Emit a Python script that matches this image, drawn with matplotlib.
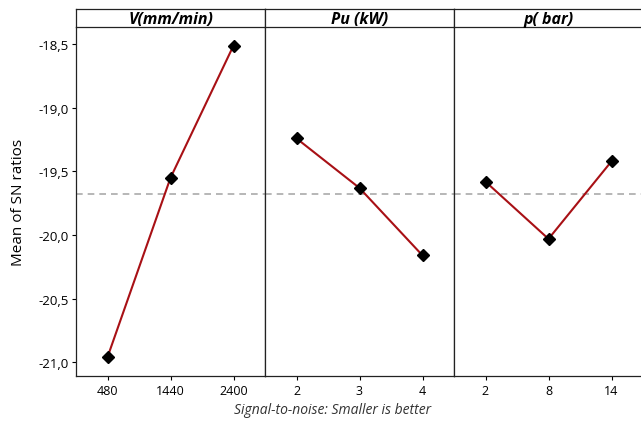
import matplotlib
matplotlib.use("Agg")
import matplotlib.pyplot as plt
from matplotlib.ticker import FuncFormatter

# factor levels and mean SN ratios
factors = ["V(mm/min)", "Pu (kW)", "p( bar)"]
levels = [["480", "1440", "2400"], ["2", "3", "4"], ["2", "8", "14"]]
sn_v = [-20.96, -19.55, -18.51]
sn_pu = [-19.24, -19.63, -20.16]
sn_p = [-19.58, -20.03, -19.42]
overall_mean = -19.676
y_ticks = [-18.5, -19.0, -19.5, -20.0, -20.5, -21.0]

plt.rcParams["font.family"] = ["Open Sans", "DejaVu Sans"]

fig = plt.figure(figsize=(6.41, 4.27), dpi=100)
W, H = 641, 427
left, panel_w = 76, 189
top, bottom, head_top = 28, 377, 10

series = [sn_v, sn_pu, sn_p]
for i, (name, labs, vals) in enumerate(zip(factors, levels, series)):
    x0 = (left + i * panel_w) / W
    ax = fig.add_axes([x0, 1 - bottom / H, panel_w / W, (bottom - top) / H])
    xs = list(range(1, len(vals) + 1))
    ax.axhline(overall_mean, color="#aaaaaa", lw=1.2, ls=(0, (4, 3)), zorder=1)
    ax.plot(xs, vals, color="#a81015", lw=1.5, zorder=2)
    ax.plot(xs, vals, ls="none", marker="D", ms=6.5, color="black", zorder=3)
    ax.set_xlim(0.5, 3.5)
    ax.set_ylim(-21.108, -18.364)
    ax.set_xticks(xs)
    ax.set_xticklabels(labs, fontsize=9)
    ax.tick_params(axis="x", length=3, width=0.8, pad=3)
    if i == 0:
        ax.set_yticks(y_ticks)
        ax.yaxis.set_major_formatter(FuncFormatter(lambda v, p: f"{v:.1f}".replace(".", ",")))
        ax.tick_params(axis="y", length=3, width=0.8, labelsize=9.5, pad=2)
        ax.set_ylabel("Mean of SN ratios", fontsize=11, labelpad=9)
    else:
        ax.set_yticks([])
    for s in ax.spines.values():
        s.set_linewidth(0.9)
        s.set_color("#222222")
    ax.spines["top"].set_visible(False)

    # strip header
    hx = fig.add_axes([x0, 1 - top / H, panel_w / W, (top - head_top) / H])
    hx.set_xticks([])
    hx.set_yticks([])
    for s in hx.spines.values():
        s.set_linewidth(0.9)
        s.set_color("#222222")
    hx.text(0.5, 0.45, name, ha="center", va="center", fontsize=11.5,
            fontweight="bold", fontstyle="italic", transform=hx.transAxes)

fig.text(333 / W, 1 - 411 / H, "Signal-to-noise: Smaller is better",
         ha="center", va="center", fontsize=10, fontstyle="italic", color="#333333")

fig.savefig("out.png", dpi=100)
